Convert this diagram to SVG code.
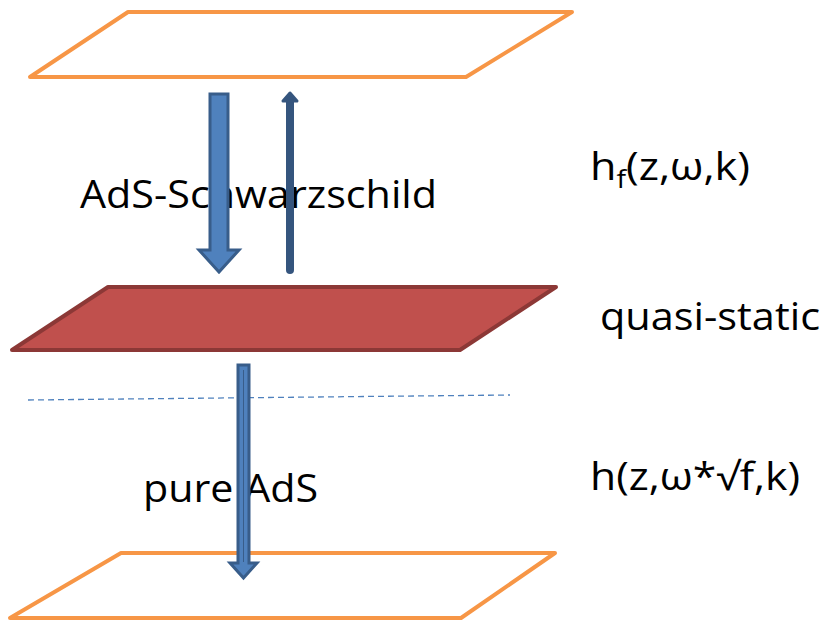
<svg xmlns="http://www.w3.org/2000/svg" width="825" height="627" viewBox="0 0 825 627">
<style>
.t{font-family:"Open Sans","Liberation Sans",sans-serif;font-size:38px;fill:#000}
.plane{fill:none;stroke:#F79646;stroke-width:4;stroke-linejoin:round}
.arr{fill:#4F81BD;stroke:#385D8A;stroke-width:3;stroke-linejoin:miter}
</style>
<rect width="825" height="627" fill="#fff"/>
<g id="top-plane"><polygon class="plane" points="128,12 572,12 466,77 30,77"/></g>
<g id="mid-plane"><polygon points="108,287 556,287 460,350 12,350" fill="#C0504D" stroke="#8C3836" stroke-width="4" stroke-linejoin="round"/></g>
<g id="bottom-plane"><polygon class="plane" points="121,553 555,553 461,618 10,618"/></g>
<g id="dashed"><line x1="28" y1="400" x2="510" y2="395" stroke="#4F81BD" stroke-width="1.3" stroke-dasharray="6,4"/></g>
<g id="labels">
<text class="t" x="80" y="208" textLength="357" lengthAdjust="spacingAndGlyphs">AdS-Schwarzschild</text>
<text class="t" x="143" y="502" textLength="175" lengthAdjust="spacingAndGlyphs">pure AdS</text>
<text class="t" x="590" y="180" textLength="160" lengthAdjust="spacingAndGlyphs">h<tspan font-size="25" dy="8">f</tspan><tspan dy="-8">(z,ω,k)</tspan></text>
<text class="t" x="600" y="330" textLength="220" lengthAdjust="spacingAndGlyphs">quasi-static</text>
<text class="t" x="590" y="490" textLength="210" lengthAdjust="spacingAndGlyphs">h(z,ω*√f,k)</text>
</g>
<g id="connectors">
<polygon class="arr" points="210,94 228,94 228,250 239,250 219,272 199,250 210,250"/>
<line x1="290" y1="270" x2="290" y2="100" stroke="#35557E" stroke-width="8" stroke-linecap="round"/>
<polygon points="283,101 290,93 297,101" fill="#35557E" stroke="#35557E" stroke-width="3" stroke-linejoin="round"/>
<polygon class="arr" points="238,365 249,365 249,563 257,563 243.5,578 230,563 238,563"/>
<line x1="243.5" y1="370" x2="243.5" y2="562" stroke="#385D8A" stroke-width="1"/>
</g>
</svg>
